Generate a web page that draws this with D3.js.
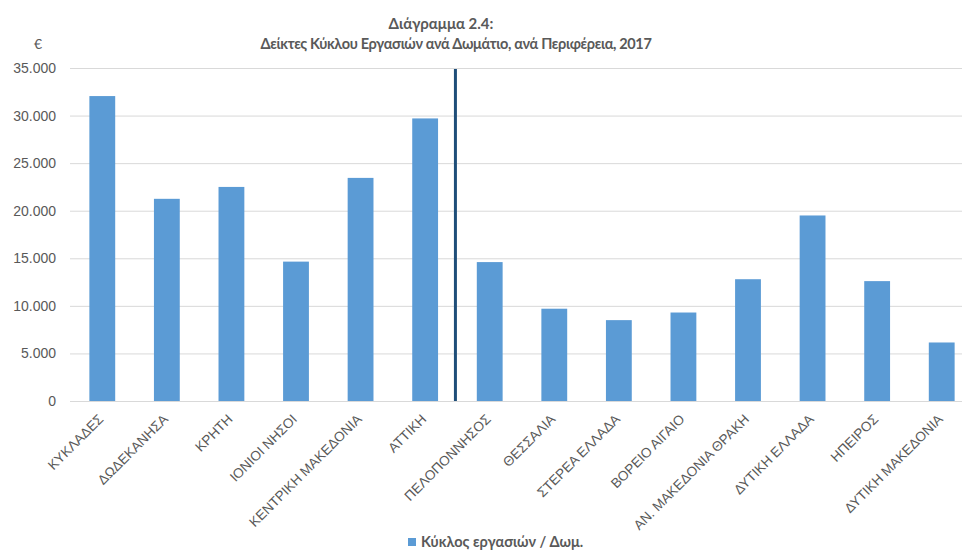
<!DOCTYPE html>
<html>
<head>
<meta charset="utf-8">
<script src="https://cdn.jsdelivr.net/npm/d3@7"></script>
<style>
  body { margin: 0; background: #fff; }
  svg { display: block; font-family: Lato, "Open Sans", sans-serif; }
</style>
</head>
<body>
<svg id="chart" width="962" height="550"></svg>
<script>
// regions, islands first then mainland (divider after ΑΤΤΙΚΗ)
var regions = ["ΚΥΚΛΑΔΕΣ", "ΔΩΔΕΚΑΝΗΣΑ", "ΚΡΗΤΗ", "ΙΟΝΙΟΙ ΝΗΣΟΙ", "ΚΕΝΤΡΙΚΗ ΜΑΚΕΔΟΝΙΑ", "ΑΤΤΙΚΗ",
    "ΠΕΛΟΠΟΝΝΗΣΟΣ", "ΘΕΣΣΑΛΙΑ", "ΣΤΕΡΕΑ ΕΛΛΑΔΑ", "ΒΟΡΕΙΟ ΑΙΓΑΙΟ", "ΑΝ. ΜΑΚΕΔΟΝΙΑ ΘΡΑΚΗ",
    "ΔΥΤΙΚΗ ΕΛΛΑΔΑ", "ΗΠΕΙΡΟΣ", "ΔΥΤΙΚΗ ΜΑΚΕΔΟΝΙΑ"];
var turnover = [32050, 21250, 22500, 14650, 23450, 29700,
    14600, 9700, 8500, 9300, 12800, 19500, 12600, 6150];
var yTicks = [0, 5000, 10000, 15000, 20000, 25000, 30000, 35000];
var dividerAfter = "ΑΤΤΙΚΗ";
var seriesName = "Κύκλος εργασιών / Δωμ.";
var titleLines = ["Διάγραμμα 2.4:", "Δείκτες Κύκλου Εργασιών ανά Δωμάτιο, ανά Περιφέρεια, 2017"];

var data = regions.map(function(r, i) { return { region: r, value: turnover[i] }; });

var svg = d3.select("#chart");
var margin = { left: 70, top: 68, bottom: 401 },
    plotRight = 974;

var x = d3.scaleBand().domain(regions).range([margin.left, plotRight]).paddingInner(0.6).paddingOuter(0.3);
var y = d3.scaleLinear().domain([0, 35000]).range([margin.bottom, margin.top]);

var grLocale = d3.formatLocale({ decimal: ",", thousands: ".", grouping: [3], currency: ["", "€"] });
var fmt = grLocale.format(",");
var grey = "#595959";

// title
svg.append("g").selectAll("text")
    .data(titleLines)
    .enter().append("text")
    .attr("x", function(d, i) { return i === 0 ? 441 : 456; })
    .attr("y", function(d, i) { return 29 + i * 20; })
    .attr("text-anchor", "middle")
    .style("font-size", function(d, i) { return i === 0 ? "15px" : "14.5px"; })
    .style("letter-spacing", function(d, i) { return i === 0 ? "0px" : "-0.35px"; })
    .style("font-weight", "bold")
    .style("fill", grey)
    .text(function(d) { return d; });

// gridlines
svg.append("g")
    .attr("transform", "translate(" + margin.left + ",0)")
    .call(d3.axisRight(y).tickValues(yTicks).tickSize(plotRight - margin.left).tickFormat(""))
    .call(function(g) {
        g.select(".domain").remove();
        g.selectAll("line").attr("stroke", "#d9d9d9").attr("stroke-width", 1);
    });

// y axis labels
svg.append("g")
    .attr("transform", "translate(" + margin.left + ",0)")
    .call(d3.axisLeft(y).tickValues(yTicks).tickSize(0).tickPadding(14).tickFormat(fmt))
    .call(function(g) {
        g.select(".domain").remove();
        g.selectAll("text").style("font-size", "14px").style("fill", grey).style("font-family", "inherit");
    });

svg.append("text")
    .attr("x", 38).attr("y", 49)
    .attr("text-anchor", "middle")
    .style("font-size", "14px")
    .style("fill", grey)
    .text("€");

// bars
svg.append("g").selectAll("rect")
    .data(data)
    .enter().append("rect")
    .attr("x", function(d) { return x(d.region); })
    .attr("width", x.bandwidth())
    .attr("y", function(d) { return y(d.value); })
    .attr("height", function(d) { return y(0) - y(d.value); })
    .attr("fill", "#5b9bd5");

// divider line
var divX = x(dividerAfter) + x.bandwidth() + (x.step() - x.bandwidth()) / 2 - 2;
svg.append("line")
    .attr("x1", divX).attr("x2", divX)
    .attr("y1", y(35000) + 1).attr("y2", y(0))
    .attr("stroke", "#1f4e79")
    .attr("stroke-width", 3);

// x axis labels
svg.append("g")
    .attr("transform", "translate(0," + margin.bottom + ")")
    .call(d3.axisBottom(x).tickSize(0).tickPadding(0))
    .call(function(g) {
        g.select(".domain").remove();
        g.selectAll("text")
            .attr("text-anchor", "end")
            .attr("dy", 0)
            .attr("transform", "translate(2,19) rotate(-45)")
            .style("font-size", "13.6px")
            .style("fill", grey)
            .style("font-family", "inherit");
    });

// legend
var legend = svg.append("g").attr("transform", "translate(408,538)");
legend.append("rect").attr("width", 8).attr("height", 8).attr("fill", "#5b9bd5");
legend.append("text")
    .attr("x", 13).attr("y", 9)
    .style("font-size", "14.5px")
    .style("font-weight", "bold")
    .style("fill", grey)
    .text(seriesName);
</script>
</body>
</html>
